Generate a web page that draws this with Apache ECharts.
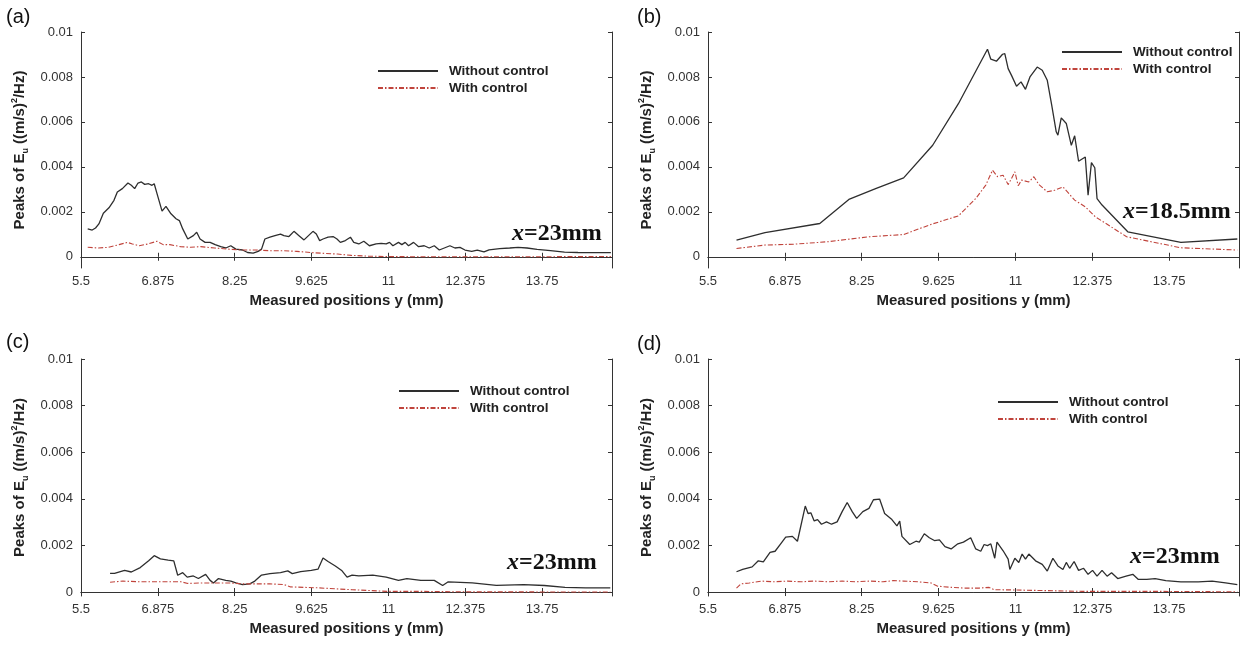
<!DOCTYPE html>
<html>
<head>
<meta charset="utf-8">
<title>Peaks of Eu</title>
<script src="https://cdn.jsdelivr.net/npm/echarts@6/dist/echarts.min.js"></script>
<style>
  html, body { margin: 0; background: #fff; }
  #chart { width: 1250px; height: 645px; }
</style>
</head>
<body>
<div id="chart"></div>
<script>
// tick labels
const xTicks = [5.5, 6.875, 8.25, 9.625, 11, 12.375, 13.75]
const yTicks = [0, 0.002, 0.004, 0.006, 0.008, 0.01]
const seriesNames = ['Without control', 'With control']

// (a) x=23mm  [y position (mm), peak]
const aWithout = [[5.62,0.00124],[5.70,0.00119],[5.76,0.00128],[5.82,0.00146],[5.90,0.00194],[6.00,0.00218],[6.09,0.00251],[6.15,0.00288],[6.24,0.00303],[6.34,0.00328],[6.40,0.00318],[6.46,0.00303],[6.52,0.00328],[6.58,0.00333],[6.64,0.00322],[6.71,0.00325],[6.77,0.00318],[6.81,0.00325],[6.86,0.00281],[6.95,0.00203],[7.02,0.00224],[7.11,0.00191],[7.20,0.00169],[7.26,0.00161],[7.32,0.00124],[7.41,0.00079],[7.51,0.00094],[7.57,0.00109],[7.63,0.00079],[7.72,0.00064],[7.81,0.00064],[7.90,0.00054],[8.00,0.00045],[8.09,0.00039],[8.18,0.00049],[8.27,0.00034],[8.39,0.00030],[8.48,0.00019],[8.58,0.00016],[8.67,0.00024],[8.73,0.00034],[8.79,0.00079],[8.88,0.00087],[8.97,0.00094],[9.07,0.00101],[9.13,0.00094],[9.22,0.00090],[9.31,0.00113],[9.40,0.00094],[9.49,0.00075],[9.57,0.00094],[9.65,0.00113],[9.71,0.00101],[9.77,0.00072],[9.83,0.00079],[9.92,0.00087],[10.01,0.00090],[10.08,0.00079],[10.14,0.00064],[10.23,0.00072],[10.32,0.00087],[10.38,0.00064],[10.47,0.00057],[10.56,0.00069],[10.66,0.00049],[10.78,0.00057],[10.87,0.00060],[10.96,0.00057],[11.02,0.00064],[11.08,0.00049],[11.18,0.00064],[11.24,0.00054],[11.30,0.00064],[11.36,0.00049],[11.45,0.00064],[11.54,0.00045],[11.64,0.00049],[11.73,0.00039],[11.82,0.00049],[11.91,0.00030],[12.00,0.00039],[12.10,0.00049],[12.19,0.00039],[12.28,0.00042],[12.37,0.00030],[12.49,0.00024],[12.59,0.00030],[12.71,0.00022],[12.80,0.00031],[12.99,0.00036],[13.17,0.00039],[13.32,0.00042],[13.48,0.00039],[13.66,0.00033],[13.90,0.00027],[14.15,0.00021],[14.39,0.00019],[14.64,0.00018],[14.98,0.00018]]
const aWith = [[5.62,0.00042],[5.81,0.00039],[5.99,0.00042],[6.18,0.00054],[6.33,0.00064],[6.42,0.00057],[6.54,0.00049],[6.70,0.00057],[6.86,0.00069],[6.97,0.00054],[7.09,0.00054],[7.28,0.00045],[7.46,0.00042],[7.64,0.00045],[7.89,0.00039],[8.13,0.00034],[8.38,0.00030],[8.62,0.00030],[8.87,0.00027],[9.11,0.00027],[9.36,0.00024],[9.60,0.00019],[9.85,0.00015],[10.09,0.00012],[10.34,0.00006],[10.64,0.00003],[10.95,0.00001],[11.56,0],[12.17,0],[12.78,0],[13.40,0],[14.98,0.00001]]

// (b) x=18.5mm
const bWithout = [[6.01,0.00074],[6.52,0.00107],[7.50,0.00148],[8.02,0.00255],[8.51,0.00304],[9.00,0.00351],[9.52,0.00496],[9.98,0.00681],[10.50,0.00923],[10.56,0.00879],[10.66,0.00870],[10.77,0.00901],[10.81,0.00904],[10.87,0.00837],[10.93,0.00807],[11.02,0.00759],[11.10,0.00778],[11.18,0.00745],[11.26,0.00800],[11.39,0.00844],[11.48,0.00830],[11.57,0.00785],[11.65,0.00674],[11.73,0.00556],[11.76,0.00541],[11.82,0.00618],[11.91,0.00593],[12.00,0.00496],[12.06,0.00538],[12.13,0.00425],[12.25,0.00444],[12.30,0.00274],[12.36,0.00419],[12.42,0.00396],[12.46,0.00259],[12.55,0.00230],[13.01,0.00111],[13.96,0.00064],[14.97,0.00079]]
const bWith = [[6.01,0.00037],[6.52,0.00052],[7.04,0.00056],[7.65,0.00067],[8.39,0.00089],[9.00,0.00099],[9.49,0.00144],[9.98,0.00182],[10.29,0.00259],[10.47,0.00319],[10.59,0.00385],[10.68,0.00356],[10.78,0.00363],[10.87,0.00321],[10.93,0.00348],[10.99,0.00378],[11.05,0.00316],[11.11,0.00341],[11.24,0.00333],[11.33,0.00356],[11.42,0.00321],[11.57,0.00289],[11.70,0.00296],[11.85,0.00311],[12.06,0.00252],[12.25,0.00222],[12.43,0.00178],[12.99,0.00089],[13.96,0.00040],[14.97,0.00030]]

// (c) x=23mm
const cWithout = [[6.02,0.00080],[6.10,0.00080],[6.28,0.00093],[6.40,0.00086],[6.56,0.00105],[6.71,0.00134],[6.81,0.00156],[6.92,0.00142],[7.06,0.00137],[7.16,0.00134],[7.23,0.00072],[7.32,0.00083],[7.40,0.00064],[7.51,0.00069],[7.60,0.00058],[7.73,0.00076],[7.81,0.00050],[7.87,0.00039],[7.96,0.00058],[8.09,0.00050],[8.18,0.00047],[8.27,0.00039],[8.39,0.00032],[8.52,0.00035],[8.61,0.00047],[8.73,0.00073],[8.88,0.00079],[9.07,0.00083],[9.20,0.00091],[9.28,0.00079],[9.43,0.00088],[9.62,0.00093],[9.74,0.00098],[9.83,0.00146],[9.92,0.00131],[10.05,0.00112],[10.17,0.00091],[10.26,0.00064],[10.35,0.00073],[10.47,0.00069],[10.72,0.00073],[10.96,0.00064],[11.18,0.00050],[11.33,0.00058],[11.58,0.00050],[11.82,0.00050],[11.97,0.00028],[12.07,0.00044],[12.50,0.00039],[12.93,0.00029],[13.42,0.00032],[13.79,0.00028],[14.16,0.00020],[14.53,0.00018],[14.97,0.00018]]
const cWith = [[6.02,0.00042],[6.25,0.00047],[6.56,0.00044],[6.80,0.00044],[7.05,0.00044],[7.29,0.00044],[7.41,0.00037],[7.66,0.00039],[7.90,0.00039],[8.15,0.00039],[8.39,0.00035],[8.64,0.00035],[8.88,0.00035],[9.13,0.00032],[9.25,0.00022],[9.50,0.00020],[9.74,0.00018],[10.11,0.00013],[10.35,0.00010],[10.72,0.00006],[10.97,0.00003],[11.58,0.00003],[12.19,0.00001],[14.97,0]]

// (d) x=23mm
const dWithout = [[6.01,0.00087],[6.12,0.00097],[6.24,0.00105],[6.29,0.00108],[6.40,0.00134],[6.49,0.00129],[6.61,0.00170],[6.70,0.00175],[6.80,0.00207],[6.89,0.00236],[7.01,0.00239],[7.10,0.00218],[7.24,0.00369],[7.29,0.00337],[7.34,0.00340],[7.40,0.00305],[7.46,0.00311],[7.53,0.00291],[7.62,0.00301],[7.71,0.00291],[7.81,0.00301],[7.90,0.00345],[7.99,0.00384],[8.08,0.00345],[8.16,0.00316],[8.27,0.00345],[8.38,0.00359],[8.46,0.00396],[8.57,0.00399],[8.60,0.00403],[8.66,0.00337],[8.79,0.00311],[8.88,0.00284],[8.93,0.00304],[8.97,0.00239],[9.11,0.00204],[9.22,0.00218],[9.28,0.00214],[9.37,0.00250],[9.46,0.00233],[9.55,0.00221],[9.64,0.00224],[9.74,0.00195],[9.85,0.00185],[9.97,0.00207],[10.07,0.00214],[10.20,0.00233],[10.29,0.00185],[10.38,0.00175],[10.44,0.00204],[10.50,0.00199],[10.56,0.00207],[10.63,0.00145],[10.67,0.00214],[10.78,0.00177],[10.87,0.00141],[10.90,0.00097],[10.99,0.00145],[11.06,0.00127],[11.12,0.00163],[11.18,0.00141],[11.24,0.00163],[11.36,0.00134],[11.48,0.00119],[11.57,0.00090],[11.67,0.00145],[11.76,0.00112],[11.85,0.00097],[11.91,0.00127],[11.97,0.00102],[12.05,0.00131],[12.13,0.00093],[12.22,0.00102],[12.30,0.00076],[12.38,0.00093],[12.46,0.00068],[12.55,0.00093],[12.64,0.00068],[12.72,0.00083],[12.83,0.00058],[12.98,0.00068],[13.10,0.00076],[13.20,0.00054],[13.35,0.00054],[13.50,0.00058],[13.69,0.00049],[13.96,0.00044],[14.27,0.00044],[14.52,0.00047],[14.76,0.00039],[14.97,0.00032]]
const dWith = [[6.01,0.00017],[6.09,0.00035],[6.24,0.00039],[6.46,0.00047],[6.67,0.00044],[6.92,0.00047],[7.16,0.00044],[7.41,0.00047],[7.65,0.00044],[7.90,0.00047],[8.14,0.00044],[8.39,0.00047],[8.63,0.00044],[8.82,0.00049],[9.00,0.00047],[9.25,0.00044],[9.49,0.00039],[9.61,0.00025],[9.86,0.00020],[10.10,0.00017],[10.35,0.00017],[10.53,0.00020],[10.62,0.00010],[10.96,0.00009],[11.57,0.00006],[12.19,0.00003],[12.80,0.00003],[13.41,0.00003],[14.97,0.00001]]

const panels = [
  { tag: '(a)', note: '=23mm', without: aWithout, withC: aWith, left: 81, top: 32, height: 236, yMin: -0.0005, tagPos: [6, 7], legendPos: [377, 64], notePos: [512, 222] },
  { tag: '(b)', note: '=18.5mm', without: bWithout, withC: bWith, left: 708, top: 32, height: 236, yMin: -0.0005, tagPos: [637, 7], legendPos: [1061, 45], notePos: [1123, 200] },
  { tag: '(c)', note: '=23mm', without: cWithout, withC: cWith, left: 81, top: 359, height: 237, yMin: -0.00017, tagPos: [6, 332], legendPos: [398, 384], notePos: [507, 551] },
  { tag: '(d)', note: '=23mm', without: dWithout, withC: dWith, left: 708, top: 359, height: 237, yMin: -0.00017, tagPos: [637, 334], legendPos: [997, 395], notePos: [1130, 545] }
]

const axisColor = '#333'
const font = 'Liberation Sans, Arial, sans-serif'
const serif = 'Liberation Serif, Times New Roman, serif'

const option = {
  animation: false,
  backgroundColor: '#fff',
  grid: [],
  xAxis: [],
  yAxis: [],
  legend: [],
  title: [],
  series: []
}

panels.forEach((p, i) => {
  option.grid.push({ left: p.left, top: p.top, width: 531, height: p.height })

  const tickStyle = { inside: true, length: 4, lineStyle: { color: axisColor } }
  const lineStyle = { show: true, lineStyle: { color: axisColor, width: 1 } }

  option.xAxis.push({
    gridIndex: i, type: 'value', min: 5.5, max: 15, position: 'bottom',
    axisLine: lineStyle,
    axisTick: Object.assign({ customValues: xTicks }, tickStyle),
    axisLabel: { customValues: xTicks, formatter: v => String(v), color: '#333', fontSize: 13, fontFamily: font, margin: 7 },
    splitLine: { show: false },
    name: 'Measured positions y (mm)', nameLocation: 'middle', nameGap: 25,
    nameTextStyle: { fontWeight: 'bold', fontSize: 15, color: '#222', fontFamily: font }
  })
  option.xAxis.push({
    gridIndex: i, type: 'value', min: 5.5, max: 15, position: 'top',
    axisLine: lineStyle,
    axisTick: Object.assign({ customValues: xTicks }, tickStyle),
    axisLabel: { show: false },
    splitLine: { show: false }
  })
  option.yAxis.push({
    gridIndex: i, type: 'value', min: p.yMin, max: 0.01, position: 'left',
    axisLine: lineStyle,
    axisTick: Object.assign({ customValues: yTicks }, tickStyle),
    axisLabel: { customValues: yTicks, formatter: v => String(v), color: '#333', fontSize: 13, fontFamily: font, margin: 8 },
    splitLine: { show: false },
    name: '{t|Peaks of E}{sub|u}{t| ((m/s)}{sup|2}{t|/Hz)}', nameLocation: 'middle', nameGap: 51,
    nameTextStyle: {
      fontWeight: 'bold', fontSize: 15, color: '#222', fontFamily: font,
      rich: {
        t: { fontWeight: 'bold', fontSize: 15, color: '#222', fontFamily: font, lineHeight: 20 },
        sub: { fontWeight: 'bold', fontSize: 9, color: '#222', fontFamily: font, lineHeight: 9, verticalAlign: 'bottom' },
        sup: { fontWeight: 'bold', fontSize: 9, color: '#222', fontFamily: font, lineHeight: 9, verticalAlign: 'top' }
      }
    }
  })
  option.yAxis.push({
    gridIndex: i, type: 'value', min: p.yMin, max: 0.01, position: 'right',
    axisLine: lineStyle,
    axisTick: Object.assign({ customValues: yTicks }, tickStyle),
    axisLabel: { show: false },
    splitLine: { show: false }
  })

  option.series.push({
    name: seriesNames[0], type: 'line', xAxisIndex: i * 2, yAxisIndex: i * 2,
    data: p.without, symbol: 'none',
    lineStyle: { color: '#2e2e2e', width: 1.3 },
    itemStyle: { color: '#2e2e2e' }
  })
  option.series.push({
    name: seriesNames[1], type: 'line', xAxisIndex: i * 2, yAxisIndex: i * 2,
    data: p.withC, symbol: 'none',
    lineStyle: { color: '#c0443c', width: 1.1, type: [5, 2, 1.5, 2] },
    itemStyle: { color: '#c0443c' }
  })

  option.legend.push({
    data: seriesNames, orient: 'vertical', left: p.legendPos[0], top: p.legendPos[1],
    itemWidth: 60, itemHeight: 14, itemGap: 3, padding: 0,
    selectedMode: false,
    itemStyle: { opacity: 0, borderWidth: 0 },
    textStyle: { fontSize: 13.5, fontWeight: 'bold', color: '#222', fontFamily: font, padding: [0, 0, 0, 6] }
  })

  option.title.push({
    text: p.tag, left: p.tagPos[0], top: p.tagPos[1], padding: 0,
    textStyle: { fontSize: 20, fontWeight: 'normal', color: '#111', fontFamily: font }
  })
  option.title.push({
    text: '{i|x}{n|' + p.note + '}', left: p.notePos[0], top: p.notePos[1], padding: 0,
    textStyle: {
      rich: {
        i: { fontFamily: serif, fontStyle: 'italic', fontWeight: 'bold', fontSize: 24, lineHeight: 24, color: '#111' },
        n: { fontFamily: serif, fontWeight: 'bold', fontSize: 24, lineHeight: 24, color: '#111' }
      }
    }
  })
})

const chart = echarts.init(document.getElementById('chart'))
chart.setOption(option)
</script>
</body>
</html>
